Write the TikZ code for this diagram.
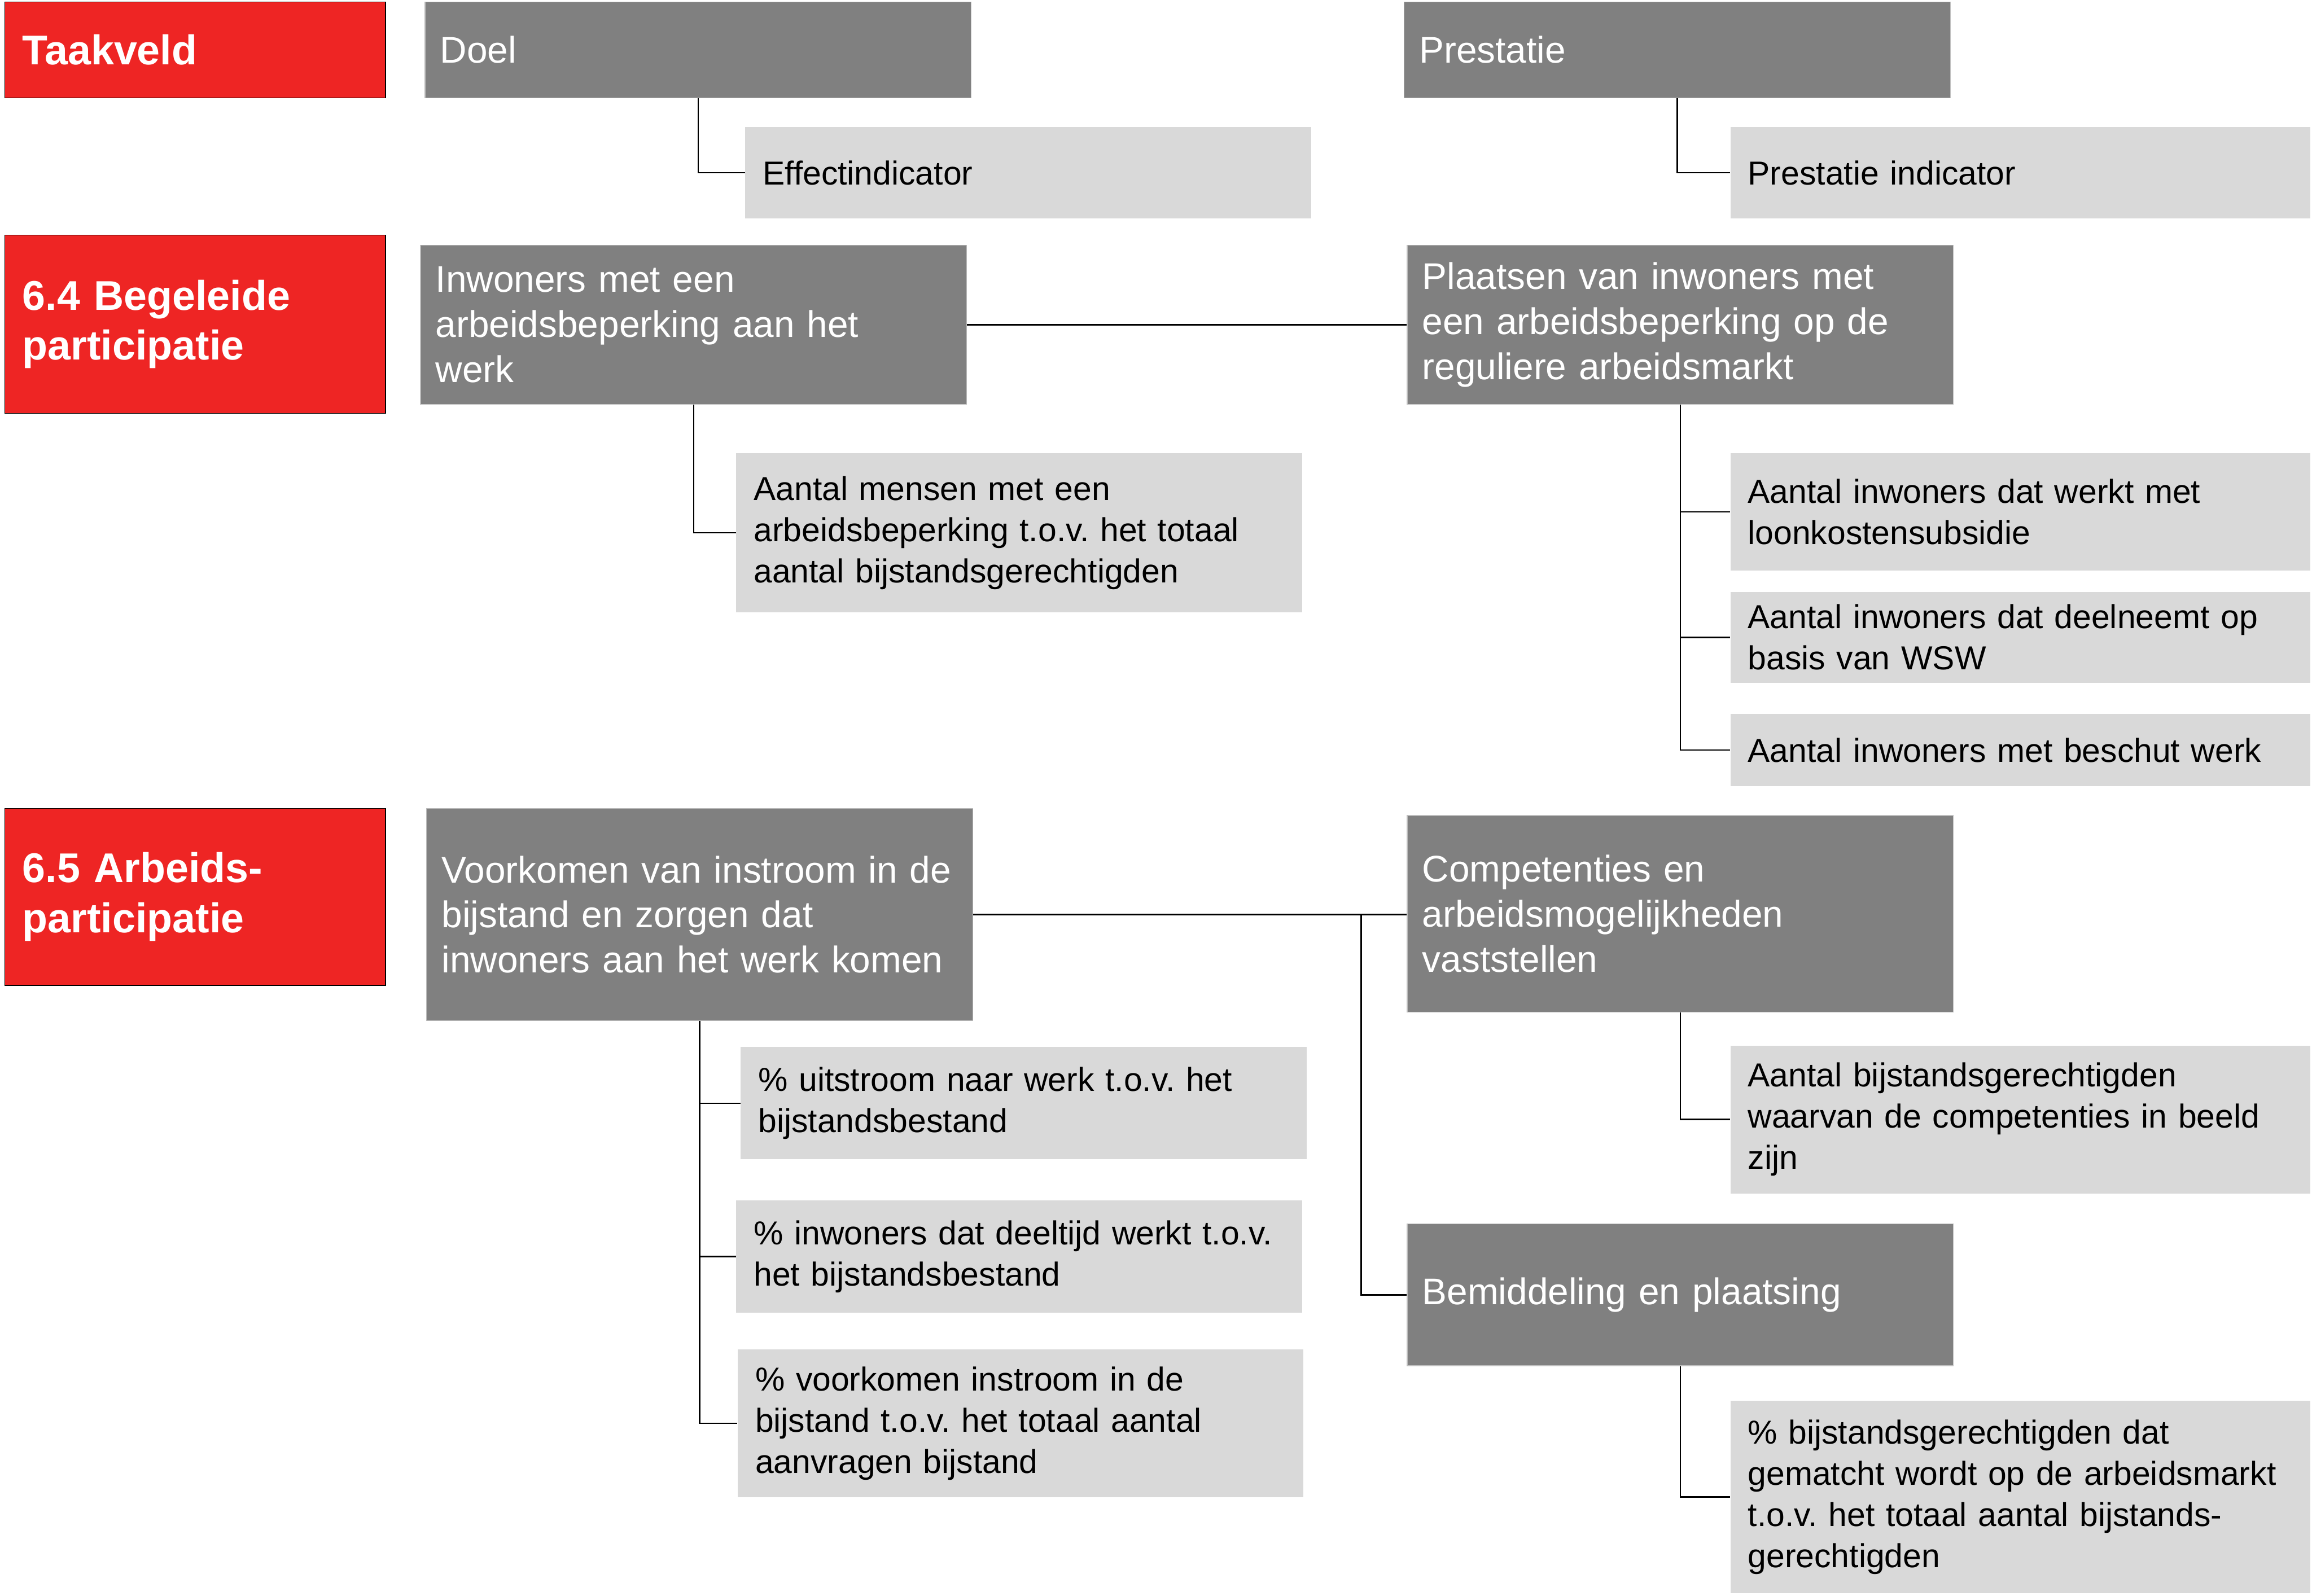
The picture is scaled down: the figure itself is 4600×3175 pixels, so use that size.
\documentclass[tikz,border=0pt]{standalone}
\usepackage{fontspec}
\setmainfont{Liberation Sans}
\usepackage{xcolor}
\usepackage{tikz}
\usetikzlibrary{positioning, calc}
\definecolor{taakrood}{RGB}{238,37,36}
\definecolor{donker}{RGB}{128,128,128}
\definecolor{rand}{RGB}{190,190,190}
\definecolor{licht}{RGB}{217,217,217}
\tikzset{
  taak/.style={rectangle, draw=black, fill=taakrood, text=white, anchor=north west, minimum width=7.57cm, text width=6.87cm, inner xsep=0.35cm, inner ysep=0pt, align=left, font=\bfseries\fontsize{23.5pt}{28.3pt}\selectfont},
  doelbox/.style={rectangle, draw=rand, fill=donker, text=white, anchor=north west, minimum width=10.86cm, text width=10.26cm, inner xsep=0.3cm, inner ysep=0pt, align=left, font=\fontsize{21pt}{25.5pt}\selectfont},
  indic/.style={rectangle, fill=licht, text=black, anchor=north west, minimum width=11.25cm, text width=10.55cm, inner xsep=0.35cm, inner ysep=0pt, align=left, font=\fontsize{18.8pt}{23.3pt}\selectfont},
  indicr/.style={indic, minimum width=11.53cm, text width=10.83cm},
  lijn/.style={draw=black, line width=0.8pt},
}
\begin{document}
\frenchspacing
\begin{tikzpicture}[x=0.01cm, y=-0.01cm]
\useasboundingbox (0,0) rectangle (4600,3175);
\node[taak, minimum height=1.91cm] (taak) at (9,3) {Taakveld};
\node[taak, minimum height=3.55cm] (t64) at (9,467) {6.4 Begeleide\\participatie};
\node[taak, minimum height=3.52cm] (t65) at (9,1608) {6.5 Arbeids-\\participatie};
\node[doelbox, minimum height=1.91cm] (doel) at (845,3) {Doel};
\node[doelbox, minimum height=1.91cm] (prest) at (2793,3) {Prestatie};
\node[indic, minimum height=1.82cm] (effect) at (1482,252) {Effectindicator};
\node[indicr, minimum height=1.82cm] (prestind) at (3442,252) {Prestatie indicator};
\node[doelbox, minimum height=3.17cm] (inw) at (836,487) {Inwoners met een\\arbeidsbeperking aan het\\werk};
\node[doelbox, minimum height=3.17cm] (plaats) at (2799,487) {Plaatsen van inwoners met\\een arbeidsbeperking op de\\reguliere arbeidsmarkt};
\node[indic, minimum height=3.17cm] (mensen) at (1464,901) {Aantal mensen met een\\arbeidsbeperking t.o.v. het totaal\\aantal bijstandsgerechtigden};
\node[indicr, minimum height=2.34cm] (loon) at (3442,901) {Aantal inwoners dat werkt met\\loonkostensubsidie};
\node[indicr, minimum height=1.81cm] (wsw) at (3442,1177) {Aantal inwoners dat deelneemt op\\basis van WSW};
\node[indicr, minimum height=1.44cm] (beschut) at (3442,1420) {Aantal inwoners met beschut werk};
\node[doelbox, minimum height=4.22cm] (voork) at (848,1608) {Voorkomen van instroom in de\\bijstand en zorgen dat\\inwoners aan het werk komen};
\node[doelbox, minimum height=3.91cm] (comp) at (2799,1622) {Competenties en\\arbeidsmogelijkheden\\vaststellen};
\node[doelbox, minimum height=2.82cm] (bemid) at (2799,2435) {Bemiddeling en plaatsing};
\node[indic, minimum height=2.23cm] (uitstr) at (1473,2083) {\% uitstroom naar werk t.o.v. het\\bijstandsbestand};
\node[indic, minimum height=2.23cm] (deelt) at (1464,2388) {\% inwoners dat deeltijd werkt t.o.v.\\het bijstandsbestand};
\node[indic, minimum height=2.93cm] (instr) at (1467,2685) {\% voorkomen instroom in de\\bijstand t.o.v. het totaal aantal\\aanvragen bijstand};
\node[indicr, minimum height=2.94cm] (bijst) at (3442,2080) {Aantal bijstandsgerechtigden\\waarvan de competenties in beeld\\zijn};
\node[indicr, minimum height=3.82cm] (match) at (3442,2787) {\% bijstandsgerechtigden dat\\gematcht wordt op de arbeidsmarkt\\t.o.v. het totaal aantal bijstands-\\gerechtigden};
\coordinate (splits) at (2708,1819);
\draw[lijn] (doel.south) |- (effect.west);
\draw[lijn] (prest.south) |- (prestind.west);
\draw[lijn] (inw.east) -- (plaats.west);
\draw[lijn] (inw.south) |- (mensen.west);
\draw[lijn] (plaats.south) |- (loon.west);
\draw[lijn] (plaats.south) |- (wsw.west);
\draw[lijn] (plaats.south) |- (beschut.west);
\draw[lijn] (voork.east) -- (voork.east -| comp.west);
\draw[lijn] (splits) |- (bemid.west);
\draw[lijn] (voork.south) |- (uitstr.west);
\draw[lijn] (voork.south) |- (deelt.west);
\draw[lijn] (voork.south) |- (instr.west);
\draw[lijn] (comp.south) |- (bijst.west);
\draw[lijn] (bemid.south) |- (match.west);
\end{tikzpicture}
\end{document}
